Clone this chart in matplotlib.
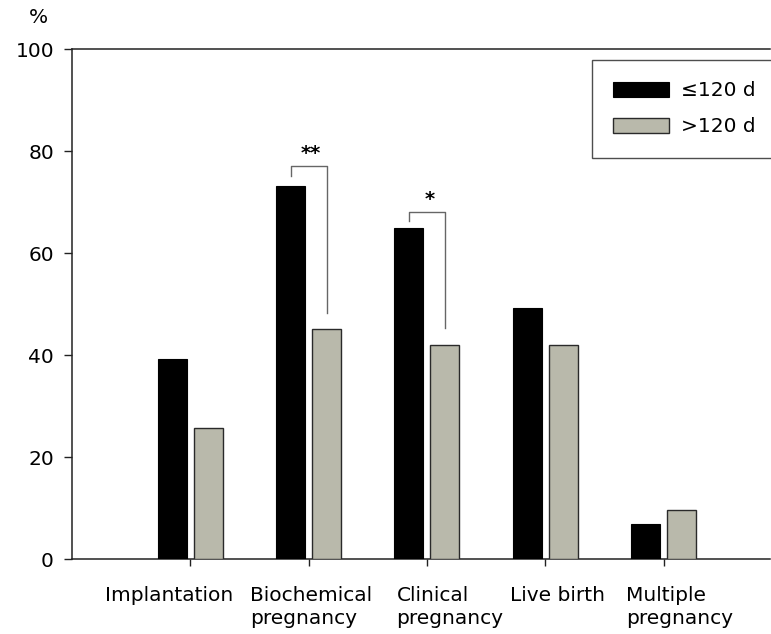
import matplotlib.pyplot as plt
import numpy as np

plt.rcParams['font.family'] = ['DejaVu Sans']

categories = ['Implantation', 'Biochemical\npregnancy', 'Clinical\npregnancy',
              'Live birth', 'Multiple\npregnancy']
short_interval = [39.2, 73.2, 64.9, 49.3, 7.0]   # <=120 d
long_interval = [25.8, 45.1, 41.9, 41.9, 9.7]    # >120 d
series_names = ['\u2264120 d', '>120 d']

# significance brackets: group, top, left leg end, right leg end, mark
sig_groups = [1, 2]
sig_top = [77.1, 68.0]
sig_left = [75.1, 66.2]
sig_right = [48.2, 45.3]
sig_marks = ['**', '*']

# left edge of each category label, relative to its tick
label_shift = [-0.725, -0.493, -0.258, -0.30, -0.319]

fs = 14.5

fig = plt.figure(figsize=(7.71, 6.34), dpi=100)
ax = fig.add_axes([0.0934, 0.1178, 0.9053, 0.8049])

x = np.arange(len(categories))
w = 0.245
off = 0.152
ax.bar(x - off, short_interval, w, color='black', edgecolor='black',
       linewidth=0.8, label=series_names[0], zorder=3)
ax.bar(x + off, long_interval, w, color='#b9b9ab', edgecolor='#2a2a2a',
       linewidth=1.0, label=series_names[1], zorder=3)

for g, top, lb, rb, mark in zip(sig_groups, sig_top, sig_left, sig_right, sig_marks):
    xl = g - off
    xr = g + off
    ax.plot([xl, xl, xr, xr], [lb, top, top, rb], color='#666666', lw=1.0, zorder=4)
    ax.text((xl + xr) / 2 + 0.02, top + 0.6, mark, ha='center', va='bottom',
            fontsize=14, fontweight='bold')

ax.set_xlim(-1.0, 4.9)
ax.set_ylim(0, 100)
ax.set_yticks([0, 20, 40, 60, 80, 100])
ax.set_xticks(x)
ax.set_xticklabels([])

for s in ['left', 'bottom', 'top']:
    ax.spines[s].set_color('#222222')
    ax.spines[s].set_linewidth(1.1)
ax.spines['right'].set_visible(False)

ax.tick_params(axis='y', direction='out', length=6, width=1.0, pad=7,
               labelsize=fs, color='#222222')
ax.tick_params(axis='x', direction='out', length=5, width=1.0, color='#222222')

for i, lab in enumerate(categories):
    ax.annotate(lab, xy=(i + label_shift[i], 0), xycoords=('data', 'axes fraction'),
                xytext=(0, -19), textcoords='offset points', ha='left', va='top',
                fontsize=fs, linespacing=1.3, multialignment='left')

fig.text(0.037, 0.988, '%', fontsize=fs, ha='left', va='top')

leg = ax.legend(loc='upper left', bbox_to_anchor=(0.745, 0.978), fontsize=fs,
                frameon=True, fancybox=False, shadow=False, borderpad=1.05,
                handlelength=2.75, handleheight=0.8, handletextpad=0.6,
                labelspacing=0.85, borderaxespad=0)
leg.get_frame().set_edgecolor('#222222')
leg.get_frame().set_linewidth(1.0)

fig.savefig('out.png', dpi=100)
